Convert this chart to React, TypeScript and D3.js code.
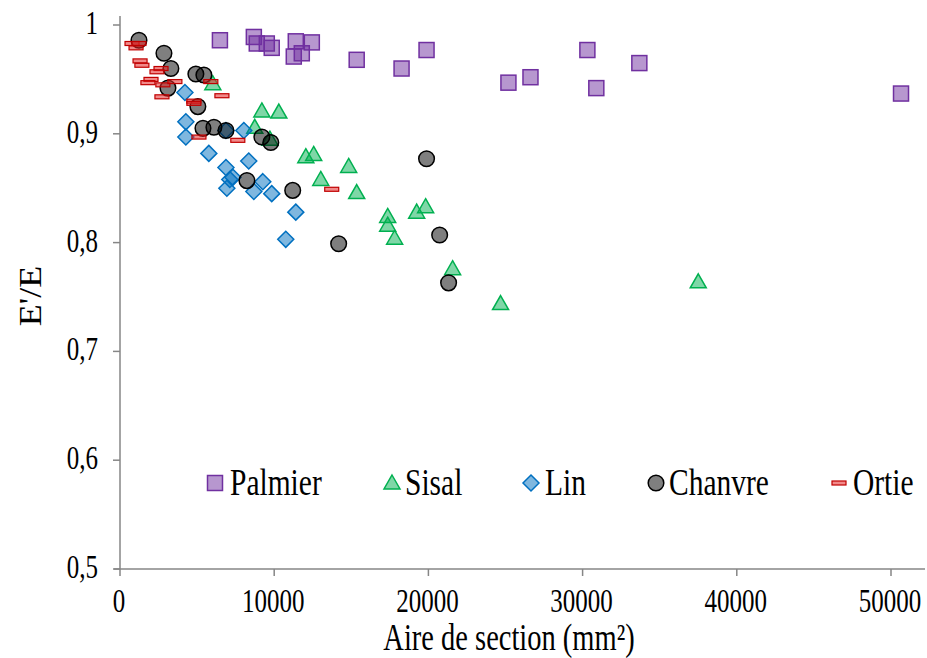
import React from 'react';
import * as d3 from 'd3';

const palmierX = [6480, 8680, 8870, 9520, 9840, 11400, 12440, 11270, 11790, 15350, 18260, 19880, 25190, 26620, 30310, 30890, 33680, 50650];
const palmierY = [0.986, 0.989, 0.983, 0.983, 0.979, 0.985, 0.984, 0.971, 0.974, 0.968, 0.960, 0.977, 0.947, 0.952, 0.977, 0.942, 0.965, 0.937];

const sisalX = [6020, 9200, 10300, 8740, 9720, 12050, 12560, 13020, 14830, 15350, 17360, 17360, 17810, 19240, 19820, 21570, 24680, 37500];
const sisalY = [0.946, 0.921, 0.920, 0.906, 0.895, 0.879, 0.881, 0.858, 0.870, 0.846, 0.824, 0.816, 0.804, 0.828, 0.833, 0.776, 0.744, 0.764];

const linX = [4210, 4270, 4270, 5760, 6870, 8030, 8350, 6870, 7320, 7120, 6930, 8680, 9260, 9840, 11400, 10750];
const linY = [0.938, 0.911, 0.897, 0.882, 0.903, 0.903, 0.875, 0.869, 0.860, 0.858, 0.850, 0.847, 0.856, 0.845, 0.828, 0.803];

const chanvreX = [1230, 2850, 3300, 4920, 5440, 3110, 5050, 5380, 6090, 6870, 9200, 9780, 8230, 11200, 14180, 19880, 20730, 21310];
const chanvreY = [0.986, 0.974, 0.960, 0.955, 0.954, 0.942, 0.925, 0.905, 0.906, 0.903, 0.897, 0.892, 0.857, 0.848, 0.799, 0.877, 0.807, 0.763];

const ortieX = [780, 1230, 1040, 1300, 1420, 2660, 2400, 2010, 1810, 2780, 3560, 2720, 4790, 4790, 5890, 6610, 5120, 7640, 13730];
const ortieY = [0.983, 0.983, 0.979, 0.967, 0.963, 0.960, 0.957, 0.950, 0.947, 0.945, 0.948, 0.934, 0.930, 0.928, 0.948, 0.935, 0.897, 0.894, 0.849];

const seriesNames = ['Palmier', 'Sisal', 'Lin', 'Chanvre', 'Ortie'];
const xTicks = [0, 10000, 20000, 30000, 40000, 50000];
const yTicks = [0.5, 0.6, 0.7, 0.8, 0.9, 1];

const W = 927;
const H = 658;
const x = d3.scaleLinear().domain([0, 50000]).range([120, 891]);
const y = d3.scaleLinear().domain([0.5, 1]).range([569, 25]);

const FONT = '"Liberation Serif", "Times New Roman", serif';
const SY = 1.32;

type Shape = 'square' | 'triangle' | 'diamond' | 'circle' | 'dash';
const styles: Record<string, { shape: Shape; fill: string; stroke: string }> = {
  Palmier: { shape: 'square', fill: 'rgba(112,48,160,0.5)', stroke: '#7030a0' },
  Sisal: { shape: 'triangle', fill: 'rgba(0,176,80,0.5)', stroke: '#00b050' },
  Lin: { shape: 'diamond', fill: 'rgba(0,112,192,0.5)', stroke: '#0070c0' },
  Chanvre: { shape: 'circle', fill: 'rgba(0,0,0,0.5)', stroke: '#000000' },
  Ortie: { shape: 'dash', fill: 'rgba(230,40,40,0.55)', stroke: '#c00000' },
};

function Marker({ cx, cy, name }: { cx: number; cy: number; name: string }) {
  const s = styles[name];
  const common = { fill: s.fill, stroke: s.stroke, strokeWidth: 1.5 };
  switch (s.shape) {
    case 'square':
      return <rect x={cx - 7.5} y={cy - 7.5} width={15} height={15} {...common} />;
    case 'triangle':
      return <path d={`M${cx},${cy - 8} L${cx + 8},${cy + 6} L${cx - 8},${cy + 6} Z`} {...common} />;
    case 'diamond':
      return <path d={`M${cx},${cy - 8} L${cx + 8},${cy} L${cx},${cy + 8} L${cx - 8},${cy} Z`} {...common} />;
    case 'circle':
      return <circle cx={cx} cy={cy} r={7.8} {...common} />;
    case 'dash':
      return <rect x={cx - 7} y={cy - 2} width={14} height={4} {...common} strokeWidth={1.2} />;
  }
  return null;
}

const seriesData: Record<string, [number[], number[]]> = {
  Palmier: [palmierX, palmierY],
  Sisal: [sisalX, sisalY],
  Lin: [linX, linY],
  Chanvre: [chanvreX, chanvreY],
  Ortie: [ortieX, ortieY],
};

const legendMarkerX = [215, 392, 531, 656, 839];
const legendTextX = [230, 405, 545, 669, 853];

function ST({ x0, y0, size, anchor, children, rotate }: any) {
  const tr = rotate
    ? `translate(${x0},${y0}) rotate(-90) scale(${SY * 0.85},1)`
    : `translate(${x0},${y0}) scale(1,${SY})`;
  return (
    <text transform={tr} fontFamily={FONT} fontSize={size} textAnchor={anchor || 'start'} fill="#000">
      {children}
    </text>
  );
}

export default function App() {
  const axisColor = '#868686';
  return (
    <svg width={W} height={H} style={{ position: 'absolute', left: 0, top: 0, background: '#fff' }}>
      {/* axes */}
      <line x1={x(0)} x2={x(0)} y1={16} y2={y(0.5)} stroke={axisColor} strokeWidth={1.5} />
      <line x1={x(0) - 6} x2={925} y1={y(0.5)} y2={y(0.5)} stroke={axisColor} strokeWidth={1.5} />
      {yTicks.map((t) => (
        <g key={'yt' + t}>
          <line x1={x(0) - 7} x2={x(0)} y1={y(t)} y2={y(t)} stroke={axisColor} strokeWidth={1.5} />
          <ST x0={98} y0={y(t) + 9} size={25} anchor="end">
            {d3.format('.1f')(t).replace('.', ',').replace(/^1,0$/, '1')}
          </ST>
        </g>
      ))}
      {xTicks.map((t) => (
        <g key={'xt' + t}>
          <line x1={x(t)} x2={x(t)} y1={y(0.5)} y2={y(0.5) + 7} stroke={axisColor} strokeWidth={1.5} />
          <ST x0={x(t) - 1} y0={612} size={25} anchor="middle">
            {String(t)}
          </ST>
        </g>
      ))}
      {/* axis titles */}
      <ST x0={509} y0={650} size={28.5} anchor="middle">
        Aire de section (mm²)
      </ST>
      <ST x0={41} y0={296} size={32} anchor="middle" rotate>
        E'/E
      </ST>
      {/* series */}
      {seriesNames.map((name) => {
        const [xs, ys] = seriesData[name];
        return (
          <g key={name}>
            {xs.map((v, i) => (
              <Marker key={i} cx={x(v)} cy={y(ys[i])} name={name} />
            ))}
          </g>
        );
      })}
      {/* legend */}
      {seriesNames.map((name, i) => (
        <g key={'lg' + name}>
          <Marker cx={legendMarkerX[i]} cy={483} name={name} />
          <ST x0={legendTextX[i]} y0={495} size={29.5}>
            {name}
          </ST>
        </g>
      ))}
    </svg>
  );
}
